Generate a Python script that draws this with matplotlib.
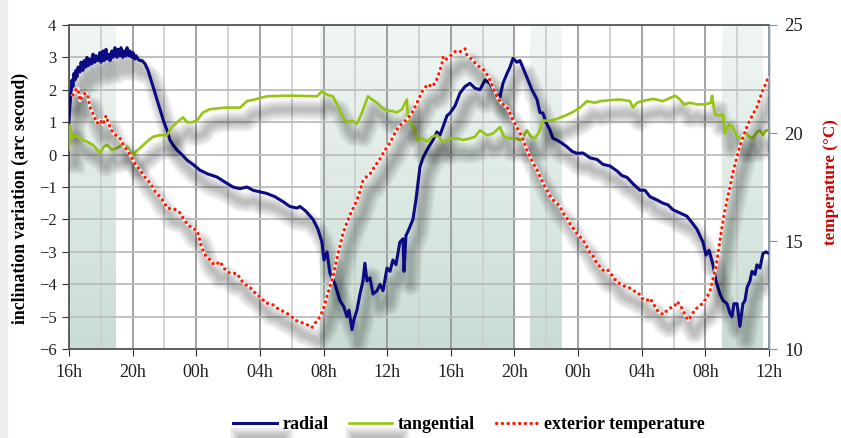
import matplotlib
matplotlib.use("Agg")
import matplotlib.pyplot as plt
import matplotlib.patheffects as pe
from matplotlib.colors import LinearSegmentedColormap
from matplotlib.patches import Rectangle
import numpy as np

# hours since 16h on day 1
radial_t = [0.00, 0.06, 0.13, 0.19, 0.25, 0.31, 0.38, 0.44, 0.50, 0.57, 0.69, 0.76, 0.88, 0.95, 1.07, 1.13,
            1.25, 1.32, 1.44, 1.51, 1.63, 1.70, 1.82, 1.95, 2.01, 2.14, 2.20, 2.33, 2.39, 2.51, 2.58, 2.70,
            2.77, 2.89, 3.02, 3.08, 3.21, 3.27, 3.39, 3.46, 3.58, 3.65, 3.77, 3.83, 3.96, 4.02, 4.14, 4.21,
            4.33, 4.46, 4.59, 4.78, 4.97, 5.28, 5.53, 5.72, 5.97,
            6.16, 6.35, 6.54, 6.79, 7.10, 7.42, 7.79, 8.23, 8.74, 9.30, 9.81, 10.31, 10.75, 11.19, 11.57,
            12.01, 12.45, 12.95, 13.45, 13.89, 14.33, 14.52, 14.90, 15.34, 15.65, 15.90, 16.03, 16.22, 16.40,
            16.72, 17.03, 17.28, 17.47, 17.60, 17.79, 17.91, 18.10, 18.29, 18.48, 18.60, 18.73, 18.92, 19.11,
            19.36, 19.55, 19.74, 19.99, 20.18, 20.36, 20.55, 20.80, 20.99, 21.06, 21.18, 21.37, 21.62, 21.81,
            22.06, 22.25, 22.50, 22.69, 22.88, 23.13, 23.32, 23.51, 23.76, 23.95, 24.26, 24.58, 24.89, 25.20,
            25.52, 25.83, 26.15, 26.46, 26.78, 27.09, 27.28, 27.53, 27.72, 27.91, 28.16, 28.35, 28.60, 28.85,
            29.10, 29.42, 29.60, 29.79, 29.98, 30.23, 30.42, 30.67, 30.99, 31.30, 31.62, 31.93, 32.31, 32.75,
            33.19, 33.56, 34.00, 34.44, 34.76, 35.07, 35.45, 35.89, 36.20, 36.52, 36.96, 37.34, 37.65, 37.96,
            38.40, 38.84, 39.16, 39.47, 39.66, 39.85, 40.04, 40.23, 40.48, 40.67, 40.92, 41.11, 41.36, 41.55,
            41.67, 41.80, 41.99, 42.17, 42.36, 42.49, 42.62, 42.80, 42.93, 43.12, 43.24, 43.43, 43.62, 43.81,
            44.00]
radial = [1.0, 1.5, 1.9, 2.3, 2.1, 2.5, 2.3, 2.6, 2.4, 2.7, 2.55, 2.85, 2.6, 2.9, 2.7, 3.0,
          2.75, 2.95, 2.8, 3.1, 2.85, 3.05, 2.9, 3.15, 2.85, 3.2, 2.9, 3.25, 2.95, 3.1, 2.9, 3.2,
          3.0, 3.3, 3.0, 3.25, 3.05, 3.3, 3.0, 3.2, 3.05, 3.3, 3.05, 3.2, 3.0, 3.15, 2.95, 3.05,
          2.95, 2.9, 2.9, 2.8, 2.6, 2.1, 1.7, 1.4, 1.0,
          0.76, 0.45, 0.3, 0.14, 0.0, -0.17, -0.3, -0.48, -0.6, -0.69, -0.85, -1.0, -1.05, -1.0, -1.1,
          -1.15, -1.2, -1.3, -1.45, -1.6, -1.65, -1.6, -1.75, -2.0, -2.3, -2.7, -3.25, -3.0, -3.65,
          -4.0, -4.5, -4.7, -5.0, -4.8, -5.4, -5.1, -4.8, -4.3, -3.9, -3.35, -3.9, -3.8, -4.3,
          -4.2, -4.0, -4.2, -3.5, -3.6, -3.25, -3.4, -2.7, -2.6, -3.6, -2.5, -2.3, -2.0, -1.4,
          -0.38, -0.1, 0.14, 0.3, 0.45, 0.7, 0.6, 0.86, 1.2, 1.28, 1.5, 1.9, 2.1, 2.2,
          2.05, 2.0, 2.3, 2.2, 1.9, 1.78, 2.2, 2.5, 2.7, 2.97, 2.85, 2.9, 2.6, 2.3,
          2.0, 1.7, 1.3, 1.28, 1.0, 0.76, 0.5, 0.45, 0.35, 0.24, 0.1, 0.04, 0.05, -0.1,
          -0.15, -0.3, -0.35, -0.5, -0.65, -0.7, -0.9, -1.1, -1.1, -1.3, -1.4, -1.5, -1.55, -1.7,
          -1.8, -1.9, -2.1, -2.3, -2.5, -2.7, -3.1, -2.95, -3.4, -3.9, -4.3, -4.5, -4.6, -4.9,
          -5.0, -4.6, -4.6, -5.3, -4.6, -4.5, -4.1, -3.9, -3.6, -3.7, -3.4, -3.5, -3.05, -3.0,
          -3.05]

tang_t = [0.00, 0.06, 0.19, 0.38, 0.69, 1.13, 1.51, 1.95, 2.20, 2.39, 2.70, 3.02, 3.33, 3.65, 3.83, 4.02,
          4.21, 4.46, 4.90, 5.28, 5.72, 6.16, 6.47, 6.79, 7.17, 7.42, 7.73, 8.04, 8.42, 8.86, 9.81, 10.75,
          11.19, 11.69, 12.01, 12.45, 13.89, 15.59, 15.90, 16.22, 16.59, 16.91, 17.22, 17.47, 17.79, 18.10,
          18.42, 18.79, 19.04, 19.36, 19.67, 19.99, 20.30, 20.62, 20.93, 21.24, 21.31, 21.56, 21.75, 21.87,
          22.19, 22.50, 22.82, 23.13, 23.51, 23.95, 24.39, 24.76, 25.20, 25.52, 25.83, 26.27, 26.65, 27.09,
          27.34, 27.72, 28.10, 28.35, 28.60, 28.79, 29.04, 29.29, 29.54, 29.79, 30.23, 30.67, 31.17, 31.62,
          32.12, 32.56, 33.06, 33.38, 34.00, 34.63, 35.26, 35.45, 35.70, 36.02, 36.71, 37.34, 37.78, 38.09,
          38.40, 38.65, 39.03, 39.47, 39.97, 40.35, 40.42, 40.60, 40.92, 41.11, 41.23, 41.48, 41.73, 41.99,
          42.30, 42.55, 42.74, 42.99, 43.24, 43.43, 43.62, 43.81, 44.00]
tangential = [0.15, 0.9, 0.5, 0.6, 0.5, 0.4, 0.3, 0.05, 0.25, 0.3, 0.15, 0.2, 0.3, 0.25, 0.1, -0.05,
              0.1, 0.2, 0.4, 0.55, 0.6, 0.6, 0.85, 1.0, 1.15, 1.0, 1.0, 1.05, 1.3, 1.4, 1.45, 1.45,
              1.65, 1.7, 1.75, 1.8, 1.82, 1.8, 1.95, 1.85, 1.8, 1.5, 1.15, 1.0, 1.05, 0.95,
              1.3, 1.8, 1.7, 1.6, 1.45, 1.35, 1.35, 1.3, 1.4, 1.7, 1.1, 0.9, 0.8, 0.45,
              0.5, 0.4, 0.55, 0.6, 0.4, 0.5, 0.5, 0.45, 0.5, 0.55, 0.75, 0.6, 0.65, 0.85,
              0.55, 0.5, 0.5, 0.45, 0.6, 0.75, 0.55, 0.5, 0.7, 1.05, 1.05, 1.1, 1.2, 1.3,
              1.45, 1.65, 1.6, 1.65, 1.68, 1.7, 1.65, 1.45, 1.6, 1.65, 1.72, 1.65, 1.75, 1.82,
              1.7, 1.55, 1.6, 1.55, 1.55, 1.6, 1.82, 1.25, 1.2, 1.25, 0.65, 0.95, 0.85, 0.55,
              0.45, 0.7, 0.55, 0.5, 0.7, 0.75, 0.6, 0.75, 0.75]

temp_t = [0.25, 0.44, 0.57, 0.69, 0.88, 1.07, 1.19, 1.32, 1.51, 1.76, 1.95, 2.14, 2.33, 2.51, 2.77, 3.02,
          3.21, 3.46, 3.65, 3.83, 4.02, 4.27, 4.46, 4.78, 5.09, 5.41, 5.72, 5.97, 6.16, 6.35, 6.60, 6.79,
          6.98, 7.23, 7.42, 7.73, 8.04, 8.17, 8.30, 8.49, 8.67, 8.93, 9.11, 9.30, 9.49, 9.74, 9.99, 10.31,
          10.56, 10.81, 11.06, 11.31, 11.57, 11.82, 12.07, 12.32, 12.57, 12.82, 13.07, 13.32, 13.58, 13.83,
          14.08, 14.33, 14.58, 14.83, 15.08, 15.27, 15.46, 15.65, 15.84, 16.03, 16.28, 16.59, 16.91, 17.22,
          17.47, 17.66, 17.91, 18.10, 18.29, 18.48, 18.73, 18.92, 19.17, 19.36, 19.55, 19.74, 19.99, 20.18,
          20.36, 20.55, 20.80, 20.99, 21.18, 21.43, 21.62, 21.81, 21.94, 22.13, 22.25, 22.44, 22.63, 22.75,
          22.94, 23.13, 23.32, 23.44, 23.51, 23.63, 23.76, 23.95, 24.14, 24.33, 24.51, 24.70, 24.89, 25.01,
          25.20, 25.45, 25.64, 25.83, 26.02, 26.21, 26.46, 26.71, 26.96, 27.22, 27.53, 27.72, 27.91, 28.16,
          28.35, 28.60, 28.79, 28.98, 29.17, 29.42, 29.60, 29.85, 30.04, 30.23, 30.42, 30.67, 30.86, 31.05,
          31.30, 31.49, 31.74, 31.93, 32.12, 32.31, 32.50, 32.75, 32.94, 33.12, 33.38, 33.56, 33.81, 34.00,
          34.25, 34.44, 34.69, 34.95, 35.20, 35.45, 35.70, 35.89, 36.08, 36.33, 36.52, 36.77, 36.96, 37.15,
          37.34, 37.53, 37.78, 38.03, 38.22, 38.40, 38.59, 38.78, 38.90, 39.09, 39.28, 39.47, 39.66, 39.91,
          40.10, 40.29, 40.42, 40.54, 40.67, 40.79, 40.92, 41.04, 41.17, 41.36, 41.55, 41.74, 41.99, 42.17,
          42.36, 42.62, 42.80, 43.05, 43.24, 43.43, 43.62, 43.81, 43.93]
temperature = [21.76, 22.0, 22.05, 21.5, 21.75, 21.85, 21.7, 21.2, 20.9, 20.45, 20.6, 20.4, 20.8, 20.4, 20.0, 19.85,
               19.75, 19.4, 19.2, 19.0, 18.75, 18.45, 18.3, 17.95, 17.7, 17.3, 17.05, 16.8, 16.55, 16.5, 16.5, 16.4,
               16.3, 16.0, 15.8, 15.6, 15.5, 15.2, 14.8, 14.45, 14.25, 14.1, 13.9, 13.95, 14.05, 13.75, 13.55, 13.5,
               13.5, 13.2, 13.0, 12.9, 12.7, 12.5, 12.4, 12.15, 12.1, 12.05, 11.9, 11.8, 11.7, 11.6,
               11.45, 11.3, 11.25, 11.15, 11.1, 11.0, 11.2, 11.35, 11.6, 11.95, 12.6, 13.35, 14.4, 15.35,
               15.85, 16.2, 16.6, 16.9, 17.3, 17.8, 18.0, 18.1, 18.4, 18.6, 18.8, 19.05, 19.35, 19.55,
               19.8, 20.1, 20.35, 20.45, 20.6, 20.8, 21.0, 21.3, 21.5, 21.8, 22.0, 22.15, 22.1, 22.3,
               22.25, 22.5, 22.9, 23.2, 23.5, 23.35, 23.45, 23.55, 23.7, 23.8, 23.75, 23.8, 23.9, 23.6,
               23.5, 23.3, 23.15, 23.05, 22.95, 22.8, 22.45, 22.0, 21.6, 21.35, 21.2, 20.9, 20.6, 20.25,
               20.0, 19.6, 19.2, 18.9, 18.6, 18.3, 18.0, 17.6, 17.35, 17.1, 16.9, 16.75, 16.6, 16.3,
               16.05, 15.8, 15.55, 15.35, 15.2, 15.05, 14.8, 14.45, 14.3, 14.05, 13.8, 13.65, 13.7, 13.55,
               13.3, 13.1, 13.0, 12.9, 12.85, 12.7, 12.65, 12.5, 12.3, 12.25, 12.35, 12.05, 11.8, 11.7,
               11.6, 11.75, 11.9, 11.95, 12.2, 12.05, 11.8, 11.5, 11.35, 11.5, 11.75, 11.9, 12.0, 12.2,
               12.4, 12.7, 13.05, 13.45, 13.8, 14.4, 15.05, 15.6, 16.2, 16.9, 17.5, 18.2, 18.9, 19.4,
               19.8, 20.3, 20.6, 20.95, 21.2, 21.6, 22.0, 22.3, 22.55]

shade_spans = [(0.0, 2.9), (15.8, 28.0), (29.0, 31.0), (41.05, 43.6)]
tick_hours = [0, 4, 8, 12, 16, 20, 24, 28, 32, 36, 40, 44]
tick_labels = ['16h', '20h', '00h', '04h', '08h', '12h', '16h', '20h', '00h', '04h', '08h', '12h']

plt.rcParams['font.family'] = ['Liberation Serif', 'DejaVu Serif']

fig = plt.figure(figsize=(8.41, 4.38), dpi=100)
# faint grey strip at the left edge of the picture
fig.patches.append(Rectangle((0, 0), 7 / 841, 1, transform=fig.transFigure, color='#efefef', zorder=0))
ax = fig.add_axes([0.082, 0.203, 0.8324, 0.740])
ax2 = ax.twinx()

# shaded bands with vertical gradient
shade_cmap = LinearSegmentedColormap.from_list('shade', ['#f2f6f4', '#c9ddd4'])
grad = np.linspace(0, 1, 200).reshape(-1, 1)
for a, b in shade_spans:
    ax.imshow(grad, cmap=shade_cmap, extent=(a, b, -6, 4), aspect='auto', zorder=0.1)


def shadow_fx(offset=(4.5, -10)):
    # stacked soft strokes to fake a blurred drop shadow
    return [pe.SimpleLineShadow(offset=offset, shadow_color='k', alpha=0.04, linewidth=w)
            for w in range(15, 1, -2)]


ax.plot(radial_t, radial, color='#0b0b82', lw=2.2, label='radial', zorder=3,
        path_effects=shadow_fx() + [pe.Normal()])
ax.plot(tang_t, tangential, color='#96c412', lw=1.9, label='tangential', zorder=3,
        path_effects=shadow_fx() + [pe.Normal()])

# temperature: shadow, white trace, red dots
ax2.plot(temp_t, temperature, color='k', lw=2, path_effects=shadow_fx())
ax2.plot(temp_t, temperature, color='white', lw=2.4, alpha=0.9)
ax2.plot(temp_t, temperature, color='#ff1a00', lw=2.3, linestyle=(0, (0.1, 1.7)),
         dash_capstyle='round', label='exterior temperature')

ax.set_xlim(0, 44)
ax.set_ylim(-6, 4)
ax2.set_ylim(10, 25)

ax.set_xticks(tick_hours)
ax.set_xticklabels(tick_labels, fontsize=13)
ax.set_xticks(range(2, 44, 4), minor=True)
ax.set_yticks(range(-6, 5))
ax.tick_params(axis='y', labelsize=12, length=5, color='#333333', pad=4, labelcolor='#222222')
ax.tick_params(axis='x', which='major', length=5, color='#333333', pad=6, labelcolor='#222222')
ax.tick_params(axis='x', which='minor', length=0)
ax.set_axisbelow(True)
ax.grid(True, which='major', axis='x', color='#9a9a9a', lw=1.3)
ax.grid(True, which='minor', axis='x', color='#cfcfcf', lw=1.3)
ax.grid(True, which='major', axis='y', color='#bdbdbd', lw=1.3)

ax2.set_yticks([10, 15, 20, 25])
ax2.tick_params(axis='y', labelsize=13.5, length=6, color='#6f92c8', pad=5, labelcolor='#222222')

for s in ['top', 'bottom', 'left']:
    ax.spines[s].set_color('#555555')
    ax.spines[s].set_linewidth(1.3)
ax2.spines['right'].set_color('#7f9fd0')
ax2.spines['right'].set_linewidth(1.0)
ax2.spines['top'].set_visible(False)
ax2.spines['left'].set_visible(False)
ax2.spines['bottom'].set_visible(False)

ax.set_ylabel('inclination variation (arc second)', fontsize=12.8, fontweight='bold')
ax.yaxis.set_label_coords(-0.057, 0.466)
ax2.set_ylabel('temperature (\u00b0C)', fontsize=12.3, fontweight='bold', color='#cc0000')
ax2.yaxis.set_label_coords(1.077, 0.514)

h1, l1 = ax.get_legend_handles_labels()
h2, l2 = ax2.get_legend_handles_labels()
fig.legend(h1 + h2, l1 + l2, loc='center', bbox_to_anchor=(0.558, 0.03), ncol=3, frameon=False,
           prop={'weight': 'bold', 'size': 13}, handlelength=2.4, columnspacing=1.15, handletextpad=0.3)

fig.savefig('out.png', dpi=100)
